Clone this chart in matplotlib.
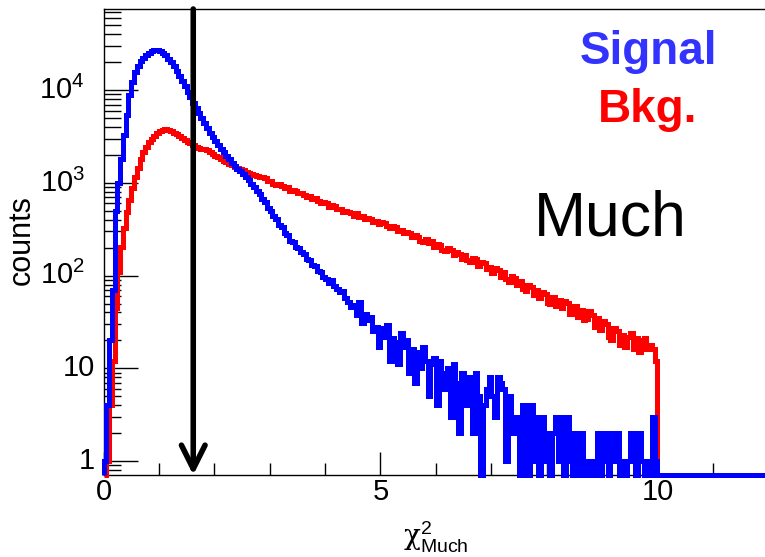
import numpy as np
import matplotlib
matplotlib.use("Agg")
import matplotlib.pyplot as plt
from matplotlib.ticker import FixedLocator, LogLocator, NullFormatter

plt.rcParams["font.family"] = ["Liberation Sans", "DejaVu Sans"]
plt.rcParams["mathtext.fontset"] = "custom"
plt.rcParams["mathtext.rm"] = "Liberation Sans"
plt.rcParams["mathtext.it"] = "Liberation Sans:italic"
plt.rcParams["mathtext.bf"] = "Liberation Sans:bold"
plt.rcParams["mathtext.sf"] = "DejaVu Serif"

# ---- histogram contents: chi2 of the MUCH track segment, bin width 0.05 ----
bin_width = 0.05

# signal: 0 .. 12
signal_counts = [
    1, 4, 20, 70, 500, 1010, 1820, 3250, 5400, 8900,
    12400, 15900, 18300, 20600, 22500, 24100, 25400, 26400, 27000, 27200,
    26600, 25300, 23800, 21900, 20100, 18200, 16300, 14400, 12700, 11100,
    9650, 8400, 7350, 6450, 5700, 5010, 4430, 3930, 3480, 3120,
    2800, 2540, 2330, 2130, 1960, 1800, 1660, 1540, 1430, 1340,
    1262, 1148, 1081, 972, 911, 808, 752, 668, 619, 541,
    503, 437, 409, 352, 331, 290, 275, 239, 231, 203,
    197, 178, 171, 152, 147, 130, 126, 112, 109, 96,
    92, 84, 90, 77, 72, 66, 68, 57, 52, 46,
    48, 38, 52, 31, 39, 33, 36, 25, 28, 17,
    27, 22, 29, 12, 21, 19, 11, 24, 17, 20,
    9, 16, 7, 15, 10, 17, 12, 5, 11, 13,
    4, 12, 9, 6, 10, 3, 11, 7, 2, 9,
    7, 4, 8, 2, 9, 5, 0, 4, 6, 8,
    5, 3, 8, 7, 6, 1, 5, 3, 2, 3,
    0, 4, 2, 0, 4, 1, 3, 0, 3, 1,
    2, 0, 2, 3, 1, 3, 0, 3, 1, 0,
    2, 0, 2, 1, 0, 1, 0, 1, 2, 0,
    2, 1, 0, 2, 1, 2, 0, 1, 0, 1,
    2, 1, 0, 2, 1, 0, 1, 0, 3, 1,
    0, 0, 0, 0, 0, 0, 0, 0, 0, 0,
    0, 0, 0, 0, 0, 0, 0, 0, 0, 0,
    0, 0, 0, 0, 0, 0, 0, 0, 0, 0,
    0, 0, 0, 0, 0, 0, 0, 0, 0, 0,
]

# background: 0 .. 10
background_counts = [
    0, 1, 4, 12, 45, 110, 205, 330, 485, 660,
    880, 1150, 1460, 1790, 2160, 2470, 2740, 3010, 3240, 3460,
    3630, 3740, 3810, 3730, 3640, 3490, 3390, 3210, 3050, 2910,
    2790, 2670, 2580, 2470, 2410, 2340, 2310, 2250, 2160, 2060,
    1970, 1890, 1800, 1740, 1670, 1600, 1560, 1490, 1465, 1410,
    1380, 1320, 1295, 1250, 1225, 1185, 1170, 1160, 1125, 1052,
    1049, 985, 958, 973, 932, 884, 899, 820, 845, 826,
    772, 781, 742, 700, 731, 675, 690, 637, 612, 620,
    604, 556, 578, 561, 519, 527, 488, 501, 490, 472,
    445, 468, 428, 439, 403, 420, 411, 378, 392, 361,
    376, 372, 341, 326, 340, 333, 301, 312, 285, 298,
    288, 259, 271, 262, 238, 231, 250, 224, 235, 205,
    219, 214, 187, 183, 197, 190, 166, 181, 172, 152,
    165, 147, 140, 155, 150, 128, 141, 138, 117, 124,
    108, 120, 115, 97, 109, 92, 86, 99, 94, 79,
    88, 72, 69, 80, 75, 61, 70, 57, 66, 63,
    51, 50, 59, 47, 55, 45, 53, 51, 39, 41,
    47, 36, 43, 33, 34, 41, 38, 28, 35, 26,
    32, 30, 22, 20, 27, 25, 18, 23, 17, 22,
    24, 16, 21, 15, 20, 21, 16, 18, 16, 12,
]

chi2_cut = 1.62
y_tick_values = [1, 10, 100, 1000, 10000]
y_tick_labels = ["1", "10", r"$\mathregular{10^{2}}$", r"$\mathregular{10^{3}}$",
                 r"$\mathregular{10^{4}}$"]
x_major_ticks = [0, 5, 10]
x_minor_ticks = [1, 2, 3, 4, 6, 7, 8, 9, 11, 12]

x_min, x_max = 0.0, 12.0
y_min, y_max = 0.706, 75200.0

# ---- figure ----
W, H = 765, 557
fig = plt.figure(figsize=(W / 100, H / 100), dpi=100)
fig.patch.set_facecolor("white")
ax = fig.add_axes([103.5 / W, 1 - 475 / H, (768.3 - 103.5) / W, (475 - 9) / H])
ax.set_yscale("log")
ax.set_xlim(x_min, x_max)
ax.set_ylim(y_min, y_max)

sig = np.asarray(signal_counts, dtype=float)
bkg = np.asarray(background_counts, dtype=float)
sig_edges = np.arange(len(sig) + 1) * bin_width
bkg_edges = np.arange(len(bkg) + 1) * bin_width

# empty bins sit on the lower frame, as in ROOT
ax.stairs(np.clip(bkg, y_min, None), bkg_edges, baseline=y_min, color="#ff0000",
          lw=3.6, clip_on=False, zorder=3)
ax.stairs(np.clip(sig, y_min, None), sig_edges, baseline=y_min, color="#0000ff",
          lw=3.6, clip_on=False, zorder=3.1)

# selection cut
ax.annotate("", xy=(chi2_cut, y_min), xytext=(chi2_cut, y_max),
            arrowprops=dict(arrowstyle="->,head_length=1.7,head_width=0.85",
                            color="black", lw=4, shrinkA=0, shrinkB=0),
            zorder=4, annotation_clip=False)

# ---- axes styling ----
for side in ("left", "bottom", "top"):
    ax.spines[side].set_linewidth(1.0)
    ax.spines[side].set_color("black")
ax.spines["right"].set_visible(False)
ax.set_axisbelow(True)

ax.xaxis.set_major_locator(FixedLocator(x_major_ticks))
ax.xaxis.set_minor_locator(FixedLocator(x_minor_ticks))
ax.set_xticklabels([str(v) for v in x_major_ticks])
ax.yaxis.set_major_locator(FixedLocator(y_tick_values))
ax.yaxis.set_minor_locator(LogLocator(base=10, subs=np.arange(2, 10), numticks=20))
ax.yaxis.set_major_formatter(NullFormatter())
ax.yaxis.set_minor_formatter(NullFormatter())

ax.tick_params(axis="x", which="major", direction="in", length=16.5, width=1.0,
               labelsize=21, pad=2, top=False)
ax.tick_params(axis="x", which="minor", direction="in", length=8.6, width=1.0, top=False)
ax.tick_params(axis="y", which="major", direction="in", length=24.5, width=1.0,
               right=False)
ax.tick_params(axis="y", which="minor", direction="in", length=12.2, width=1.0,
               right=False)

for v, lab in zip(y_tick_values, y_tick_labels):
    off = -6.0 if "10^" not in lab else -13.5
    ax.annotate(lab, xy=(0, v), xycoords=("axes fraction", "data"),
                xytext=(off, 0), textcoords="offset points",
                ha="right", va="center", fontsize=21)

ax.set_xlabel(r"$\mathsf{\chi}\mathregular{^{2}_{Much}}$", fontsize=20, labelpad=2)
ax.set_ylabel("counts", fontsize=22, labelpad=4)
ax.xaxis.set_label_coords((436 - 103.5) / (768.3 - 103.5), -0.095)
ax.yaxis.set_label_coords(-(103.5 - 37) / (768.3 - 103.5), 0.505)

fig.text(648 / W, 1 - 64 / H, "Signal", ha="center", va="baseline",
         fontsize=33, fontweight="bold", color="#3333ff")
fig.text(648 / W, 1 - 122 / H, "Bkg.", ha="center", va="baseline",
         fontsize=33, fontweight="bold", color="#ff0000")
fig.text(610 / W, 1 - 235 / H, "Much", ha="center", va="baseline",
         fontsize=45, color="black")

fig.savefig("out.png", dpi=100)
